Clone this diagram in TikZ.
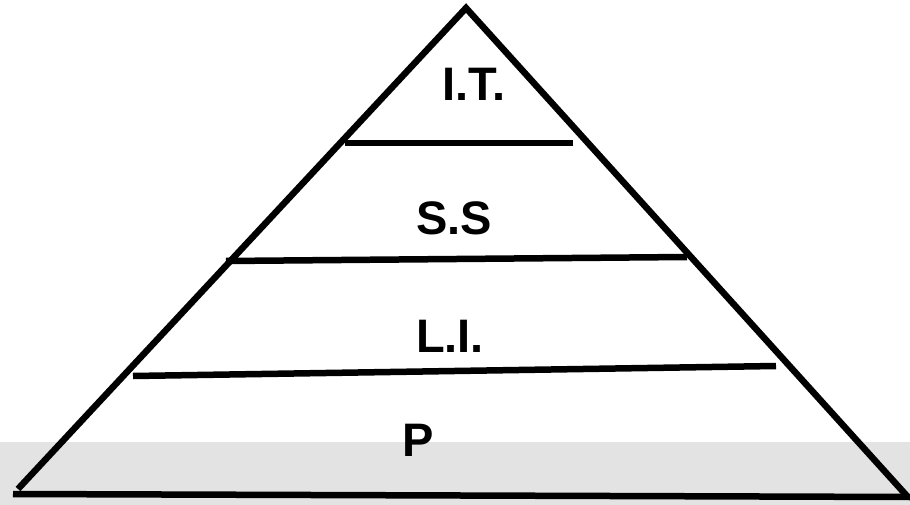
\documentclass[tikz,border=0pt]{standalone}
\usepackage{fontspec}
\setmainfont{Liberation Sans}
\usepackage{tikz}
\tikzstyle{level} = [text centered, inner sep=0pt, font=\fontsize{47}{50}\selectfont\bfseries]
\tikzstyle{edge} = [line width=6.5pt, line cap=butt]
\tikzstyle{band} = [fill=black!11, draw=none]

\begin{document}
\begin{tikzpicture}[x=1pt,y=-1pt]

\useasboundingbox (0,0) rectangle (910,505);
\fill [band] (0,442) rectangle (910,505);

\coordinate (top) at (466,8);
\coordinate (bl) at (18,489);
\coordinate (br) at (907,496);
\coordinate (base-l) at (13,494);
\coordinate (base-r) at (910,497);
\coordinate (itl) at (345,143);
\coordinate (itr) at (573,143);
\coordinate (ssl) at (226,261);
\coordinate (ssr) at (687,257);
\coordinate (lil) at (133,376);
\coordinate (lir) at (776,366);

\node (it) [level] at (474,84) {I.T.};
\node (ss) [level] at (454,218) {S.S};
\node (li) [level] at (450,336) {L.I.};
\node (p) [level] at (418,440) {P};

\draw [edge, line join=miter] (bl) -- (top) -- (br);
\draw [edge] (base-l) -- (base-r);
\draw [edge] (itl) -- (itr);
\draw [edge] (ssl) -- (ssr);
\draw [edge] (lil) -- (lir);

\end{tikzpicture}
\end{document}
